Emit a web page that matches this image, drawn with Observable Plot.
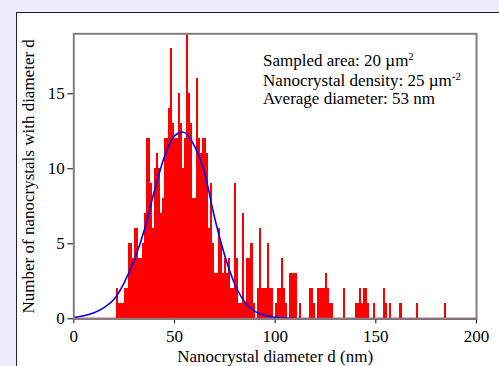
<!DOCTYPE html>
<html><head><meta charset="utf-8">
<script src="https://cdn.jsdelivr.net/npm/d3@7"></script>
<script src="https://cdn.jsdelivr.net/npm/@observablehq/plot@0.6"></script>
<style>
html,body{margin:0;padding:0;}
body{width:499px;height:366px;background:#ededfc;position:relative;overflow:hidden;font-family:"Liberation Serif",serif;}
#panel{position:absolute;left:16px;top:12px;width:600px;height:500px;background:#fff;border-left:1px solid #222;border-top:1px solid #222;}
#chart{position:absolute;left:0;top:0;}
</style></head><body><div id="panel"></div><div id="chart"></div>
<script>
// Histogram: diameter bins (nm) and counts
const diameters = [];
for (let d = 21; d <= 184; d++) diameters.push(d);
const counts = [
  2,1,1,1,2,2,5,5,4,6,        // 21-30
  6,4,4,5,7,12,12,9,6,10,     // 31-40
  11,10,7,8,12,12,14,18,13,12,// 41-50
  12,15,13,10,12,19,15,13,8,8,// 51-60
  16,12,11,12,12,11,6,9,5,3,  // 61-70
  3,6,5,3,4,3,4,2,2,9,        // 71-80
  4,1,1,7,1,4,4,5,1,0,        // 81-90
  2,6,2,2,2,5,2,2,0,1,        // 91-100
  2,2,4,2,1,0,3,3,3,3,        // 101-110
  0,1,0,0,0,0,2,2,1,0,        // 111-120
  2,2,2,2,3,2,1,1,0,0,        // 121-130
  0,0,0,2,0,0,0,0,0,1,        // 131-140
  1,2,1,2,2,1,0,0,1,0,        // 141-150
  0,0,0,2,1,0,1,0,0,0,        // 151-160
  0,1,0,0,0,0,0,0,0,1,        // 161-170
  0,0,0,0,0,0,0,0,0,0,        // 171-180
  0,0,0,1                     // 181-184
];
// Fitted curve, points
const fitD = [0,5,10,15,20,25,30,35,40,45,50,54,60,65,70,75,80,85,90,95,100,105,110,120,140,200];
const fitV = [0.08,0.2,0.4,0.75,1.3,2.4,3.9,5.9,8.5,10.8,12.2,12.45,11.5,9.7,6.7,4.2,2.3,1.1,0.5,0.22,0.1,0.05,0.02,0,0,0];
const xTicks = [0,50,100,150,200];
const yTicks = [0,5,10,15];
const annoLines = ["Sampled area: 20 µm", "Nanocrystal density: 25 µm", "Average diameter: 53 nm"];
const annoSup = ["2", "-2", ""];
const annoX = 94;
const annoY = [17.2, 15.88, 14.66];

const bins = diameters.map((d, i) => ({d, n: counts[i]}));
const fit = fitD.map((d, i) => ({d, v: fitV[i]}));
const anno = annoLines.map((t, i) => ({t, x: annoX, y: annoY[i]}));

const chart = Plot.plot({
  width: 499, height: 366,
  marginLeft: 73.3, marginRight: 23, marginTop: 33.3, marginBottom: 47.7,
  style: {fontFamily: "Liberation Serif", fontSize: "17px", color: "#000", background: "transparent", overflow: "visible"},
  x: {domain: [0, 200], ticks: xTicks, tickSize: 5, tickPadding: 6, label: "Nanocrystal diameter d (nm)", labelAnchor: "center", labelOffset: 43, labelArrow: "none", tickFormat: d => String(d)},
  y: {domain: [0, 19], ticks: yTicks, tickSize: 6, tickPadding: 3, label: "Number of nanocrystals with diameter d", labelAnchor: "center", labelOffset: 52, labelArrow: "none", tickFormat: d => String(d)},
  marks: [
    Plot.rectY(bins, {x1: "d", x2: d => d.d + 1, y: "n", fill: "#ff0000", shapeRendering: "crispEdges"}),
    Plot.ruleY([0], {stroke: "#ff0000", strokeWidth: 2}),
    Plot.line(fit, {x: "d", y: "v", stroke: "#0000ff", strokeWidth: 1.6, curve: "monotone-x"}),
    Plot.frame({stroke: "#808080", strokeWidth: 2}),
    Plot.text(anno, {x: "x", y: "y", text: "t", textAnchor: "start", fontSize: 17, fill: "#000"})
  ]
});
document.getElementById("chart").appendChild(chart);
d3.select(chart).selectAll('g[aria-label="text"] text').each(function(_, i) {
  if (annoSup[i]) d3.select(this).append("tspan").attr("dy", "-0.55em").attr("font-size", "11px").text(annoSup[i]);
});
</script>
</body></html>
